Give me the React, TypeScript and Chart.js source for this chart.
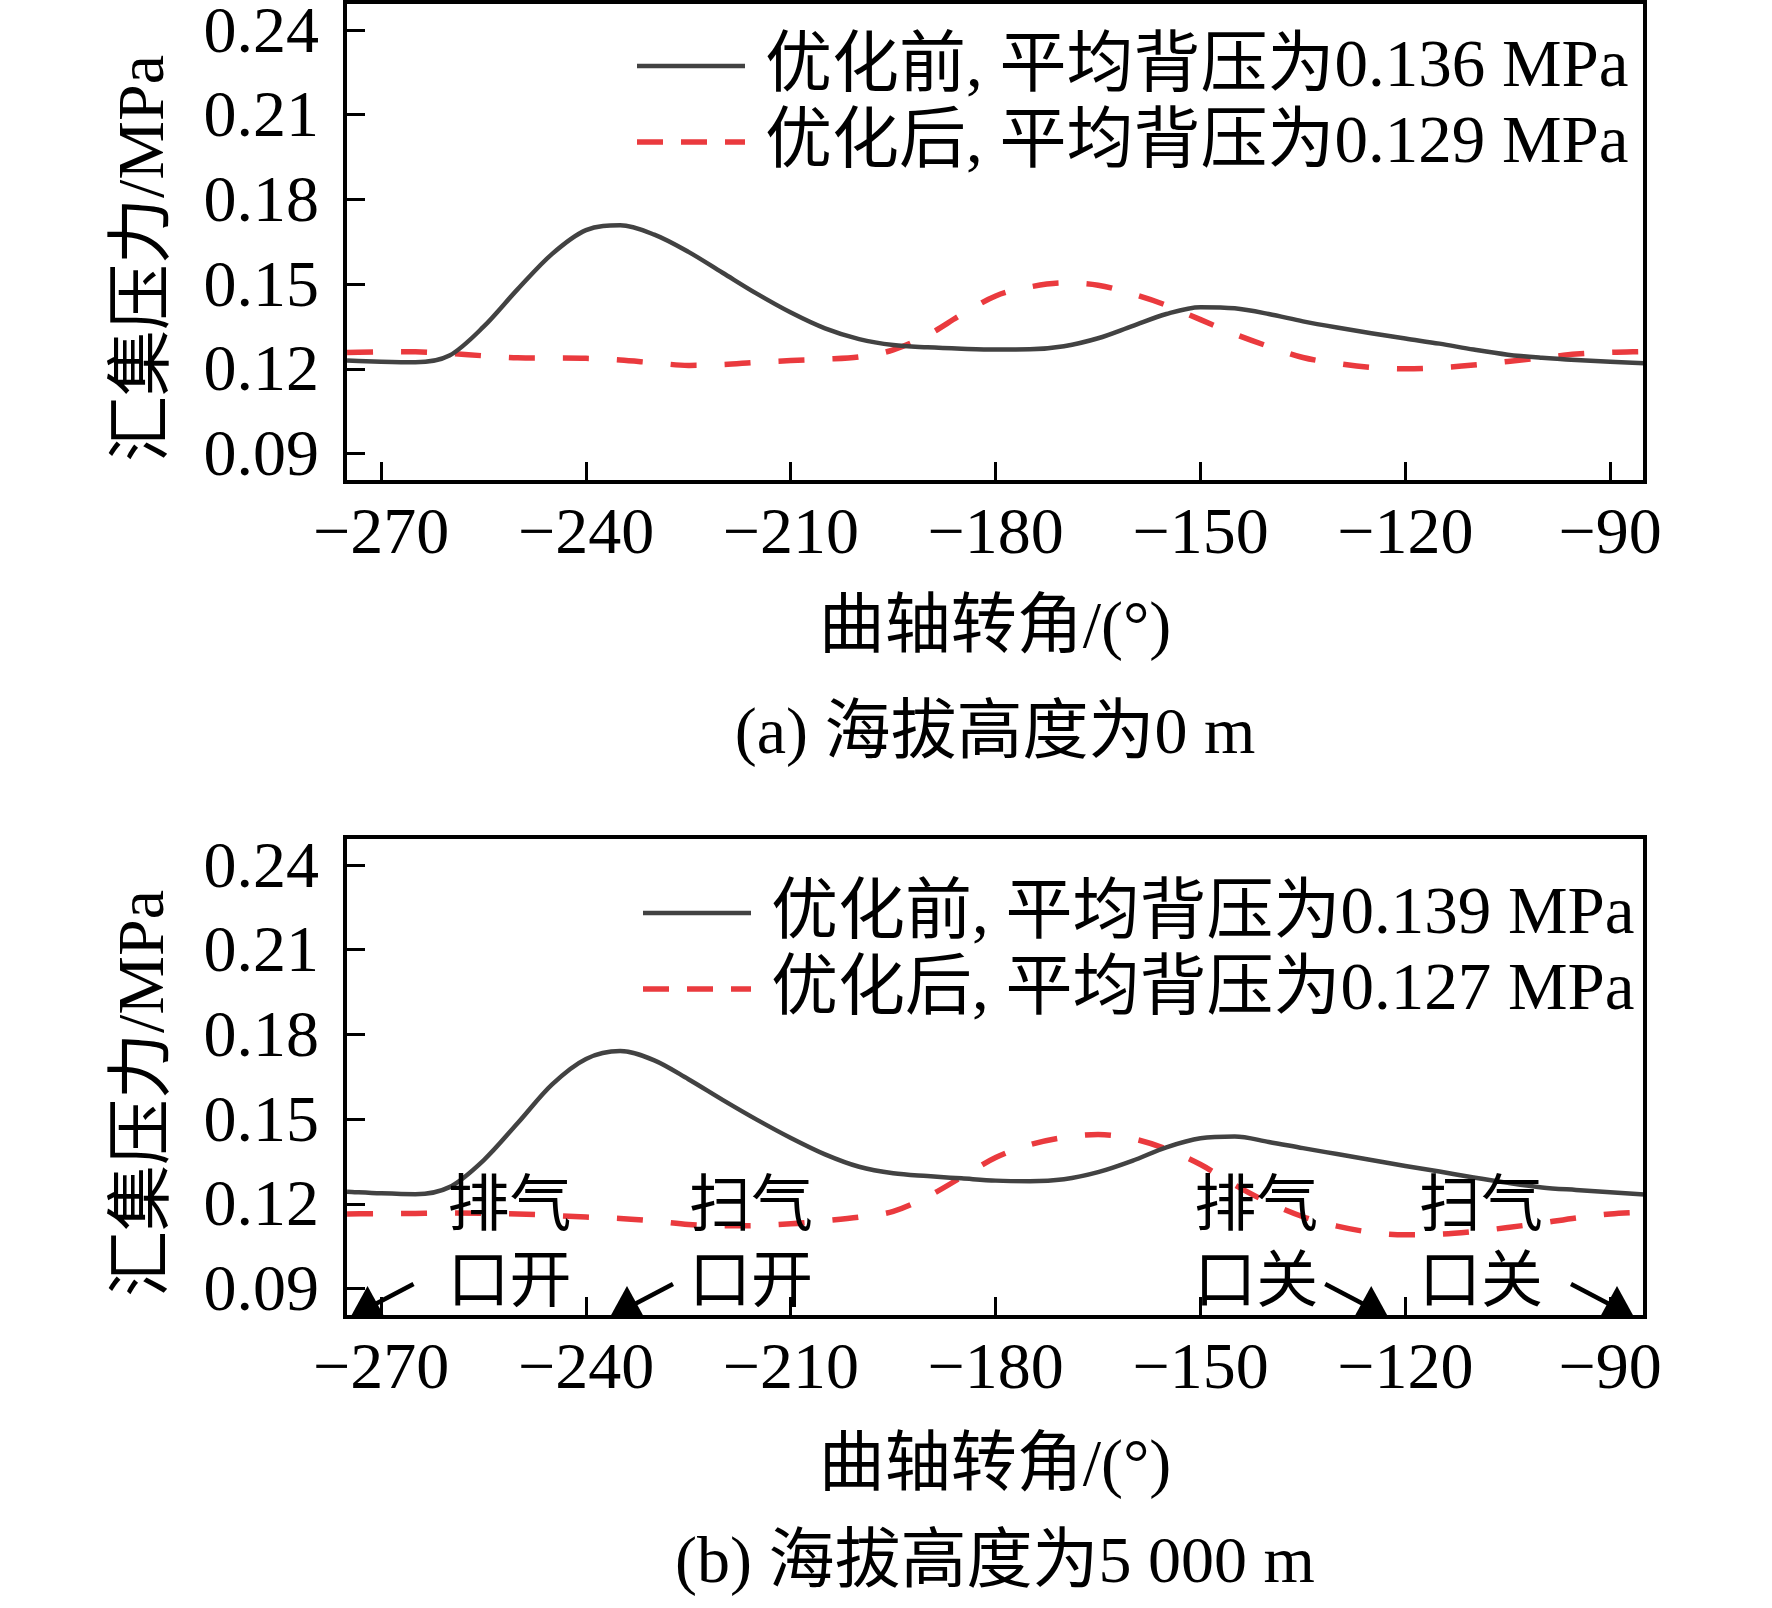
import React, { useEffect, useRef } from "react";
import Chart from "chart.js/auto";

// crank angle grid (deg)
const angles = [
  -275, -270, -265, -260, -255, -250, -245, -240, -235, -230, -225, -220, -215,
  -210, -205, -200, -195, -190, -185, -180, -175, -170, -165, -160, -155, -150,
  -145, -140, -135, -130, -125, -120, -115, -110, -105, -100, -95, -90, -85,
];

// (a) altitude 0 m
const seaLevelBefore = [
  0.1230, 0.1226, 0.1224, 0.1248, 0.1350, 0.1483, 0.1607, 0.1692, 0.1709,
  0.1676, 0.1615, 0.1541, 0.1467, 0.1400, 0.1344, 0.1306, 0.1285, 0.1277,
  0.1272, 0.1269, 0.1270, 0.1281, 0.1309, 0.1352, 0.1395, 0.1419, 0.1415,
  0.1395, 0.1369, 0.1347, 0.1327, 0.1308, 0.1290, 0.1269, 0.1251, 0.1240,
  0.1232, 0.1226, 0.1221,
];
const seaLevelAfter = [
  0.1259, 0.1261, 0.1261, 0.1255, 0.1247, 0.1240, 0.1239, 0.1238, 0.1232,
  0.1222, 0.1213, 0.1216, 0.1224, 0.1230, 0.1235, 0.1243, 0.1268, 0.1320,
  0.1393, 0.1459, 0.1491, 0.1505, 0.1497, 0.1466, 0.1426, 0.1375, 0.1324,
  0.1280, 0.1241, 0.1220, 0.1206, 0.1201, 0.1205, 0.1214, 0.1227, 0.1240,
  0.1253, 0.1259, 0.1262,
];

// (b) altitude 5000 m
const highAltBefore = [
  0.1244, 0.1238, 0.1235, 0.1260, 0.1355, 0.1487, 0.1623, 0.1714, 0.1742,
  0.1709, 0.1642, 0.1569, 0.1499, 0.1434, 0.1376, 0.1332, 0.1309, 0.1299,
  0.1291, 0.1283, 0.1281, 0.1288, 0.1313, 0.1353, 0.1401, 0.1433, 0.1439,
  0.1420, 0.1398, 0.1377, 0.1356, 0.1335, 0.1315, 0.1294, 0.1275, 0.1259,
  0.1250, 0.1242, 0.1234,
];
const highAltAfter = [
  0.1165, 0.1166, 0.1167, 0.1168, 0.1167, 0.1165, 0.1160, 0.1154, 0.1149,
  0.1140, 0.1128, 0.1123, 0.1124, 0.1130, 0.1141, 0.1154, 0.1174, 0.1226,
  0.1295, 0.1365, 0.1410, 0.1436, 0.1446, 0.1432, 0.1395, 0.1340, 0.1268,
  0.1205, 0.1155, 0.1122, 0.1100, 0.1091, 0.1093, 0.1103, 0.1117, 0.1133,
  0.1151, 0.1165, 0.1172,
];

const xTickValues = [-270, -240, -210, -180, -150, -120, -90];
const yTickValues = [0.09, 0.12, 0.15, 0.18, 0.21, 0.24];

// port timing markers (deg) and their labels
const markerAngles = [-272, -234, -125, -89];
const markerLabels = [
  ["排气", "口开"],
  ["扫气", "口开"],
  ["排气", "口关"],
  ["扫气", "口关"],
];

const FONT = '"Liberation Serif", "Noto Sans CJK SC", serif';
const W = 1772;
const H = 804;
const SOLID = "#424242";
const DASHED = "#ea3a3e";

interface PanelProps {
  before: number[];
  after: number[];
  legendText: string[];
  caption: string;
  areaTop: number;
  areaBottom: number;
  legendX: number;
  legendY: number;
  titleGap: number;
  captionGap: number;
  markers?: boolean;
}

const Panel: React.FC<PanelProps> = ({
  before,
  after,
  legendText,
  caption,
  areaTop,
  areaBottom,
  legendX,
  legendY,
  titleGap,
  captionGap,
  markers = false,
}) => {
  const canvasRef = useRef<HTMLCanvasElement | null>(null);

  useEffect(() => {
    if (!canvasRef.current) return;
    const ctx = canvasRef.current.getContext("2d");
    if (!ctx) return;

    const decor = {
      id: "decor",
      afterDraw(chart: any) {
        const c = chart.ctx;
        const a = chart.chartArea;
        const xs = chart.scales.x;
        c.save();

        // frame
        c.strokeStyle = "#000";
        c.lineWidth = 4;
        c.setLineDash([]);
        c.strokeRect(a.left, a.top, a.right - a.left, a.bottom - a.top);

        // legend
        c.font = `67px ${FONT}`;
        c.textAlign = "left";
        c.textBaseline = "middle";
        c.fillStyle = "#000";
        const rows = [
          { color: SOLID, width: 4.5, dash: [] as number[] },
          { color: DASHED, width: 5.5, dash: [26, 18] },
        ];
        rows.forEach((r, i) => {
          const y = legendY + i * 76;
          c.strokeStyle = r.color;
          c.lineWidth = r.width;
          c.setLineDash(r.dash);
          c.beginPath();
          c.moveTo(legendX, y);
          c.lineTo(legendX + 108, y);
          c.stroke();
          c.fillText(legendText[i], legendX + 128, y + 2);
        });
        c.setLineDash([]);

        // caption
        c.font = `66px ${FONT}`;
        c.textAlign = "center";
        c.fillText(caption, (a.left + a.right) / 2, a.bottom + captionGap);

        // port timing markers
        if (markers) {
          const labelDx = [80, 62, -177, -198];
          const side = [1, 1, -1, -1];
          c.font = `62px ${FONT}`;
          c.textAlign = "left";
          markerAngles.forEach((ang, i) => {
            const px = xs.getPixelForValue(ang);
            const b = a.bottom;
            c.fillStyle = "#000";
            c.fillText(markerLabels[i][0], px + labelDx[i], b - 107);
            c.fillText(markerLabels[i][1], px + labelDx[i], b - 31);
            c.strokeStyle = "#000";
            c.lineWidth = 4.5;
            c.beginPath();
            c.moveTo(px + side[i] * 46, b - 33);
            c.lineTo(px + side[i] * 6, b - 12);
            c.stroke();
            c.beginPath();
            c.moveTo(px, b - 31);
            c.lineTo(px - 17, b);
            c.lineTo(px + 17, b);
            c.closePath();
            c.fill();
          });
        }
        c.restore();
      },
    };

    const chart = new Chart(ctx, {
      type: "line",
      data: {
        labels: angles,
        datasets: [
          {
            data: angles.map((x, i) => ({ x, y: before[i] })),
            borderColor: SOLID,
            borderWidth: 4.5,
            pointRadius: 0,
            cubicInterpolationMode: "monotone",
            fill: false,
          },
          {
            data: angles.map((x, i) => ({ x, y: after[i] })),
            borderColor: DASHED,
            borderWidth: 5.5,
            borderDash: [26, 28],
            pointRadius: 0,
            cubicInterpolationMode: "monotone",
            fill: false,
          },
        ],
      },
      options: {
        animation: false,
        responsive: false,
        devicePixelRatio: 1,
        layout: { padding: { left: 0, right: W - 1645, top: areaTop, bottom: 0 } },
        plugins: {
          legend: { display: false },
          tooltip: { enabled: false },
        },
        scales: {
          x: {
            type: "linear",
            min: -275.3,
            max: -84.9,
            afterBuildTicks: (s: any) => {
              s.ticks = xTickValues.map((v) => ({ value: v }));
            },
            afterFit: (s: any) => {
              s.height = H - areaBottom;
              s.paddingLeft = 0;
              s.paddingRight = 0;
            },
            ticks: {
              callback: (v: any) => "\u2212" + Math.abs(Number(v)),
              font: { family: FONT, size: 66 },
              color: "#000",
              padding: 34,
              maxRotation: 0,
              autoSkip: false,
            },
            grid: {
              display: true,
              drawOnChartArea: false,
              drawTicks: true,
              tickLength: -20,
              tickWidth: 3,
              tickColor: "#000",
            },
            border: { display: false },
            title: {
              display: true,
              text: "曲轴转角/(°)",
              font: { family: FONT, size: 66 },
              color: "#000",
              padding: { top: 0, bottom: H - 39.6 - (areaBottom + titleGap) },
            },
          },
          y: {
            min: 0.08,
            max: 0.25,
            afterBuildTicks: (s: any) => {
              s.ticks = yTickValues.map((v) => ({ value: v }));
            },
            afterFit: (s: any) => {
              s.width = 345;
              s.paddingTop = 0;
              s.paddingBottom = 0;
            },
            ticks: {
              callback: (v: any) => Number(v).toFixed(2),
              font: { family: FONT, size: 66 },
              color: "#000",
              padding: 46,
              labelOffset: 4,
            },
            grid: {
              display: true,
              drawOnChartArea: false,
              drawTicks: true,
              tickLength: -20,
              tickWidth: 3,
              tickColor: "#000",
            },
            border: { display: false },
            title: {
              display: true,
              text: "汇集压力/MPa\u2002",
              font: { family: FONT, size: 66 },
              color: "#000",
              padding: { top: 106, bottom: 0 },
            },
          },
        },
      },
      plugins: [decor],
    } as any);

    return () => {
      chart.destroy();
    };
  }, []);

  return (
    <canvas
      ref={canvasRef}
      width={W}
      height={H}
      style={{ display: "block", width: W, height: H }}
    />
  );
};

const App: React.FC = () => (
  <div
    style={{
      position: "absolute",
      left: 0,
      top: 0,
      width: W,
      height: 2 * H,
      background: "#fff",
    }}
  >
    <Panel
      before={seaLevelBefore}
      after={seaLevelAfter}
      legendText={["优化前, 平均背压为0.136 MPa", "优化后, 平均背压为0.129 MPa"]}
      caption="(a) 海拔高度为0 m"
      areaTop={2}
      areaBottom={482}
      legendX={637}
      legendY={66}
      titleGap={148}
      captionGap={254}
    />
    <Panel
      before={highAltBefore}
      after={highAltAfter}
      legendText={["优化前, 平均背压为0.139 MPa", "优化后, 平均背压为0.127 MPa"]}
      caption="(b) 海拔高度为5 000 m"
      areaTop={33}
      areaBottom={513}
      legendX={643}
      legendY={109}
      titleGap={151}
      captionGap={248}
      markers
    />
  </div>
);

export default App;
